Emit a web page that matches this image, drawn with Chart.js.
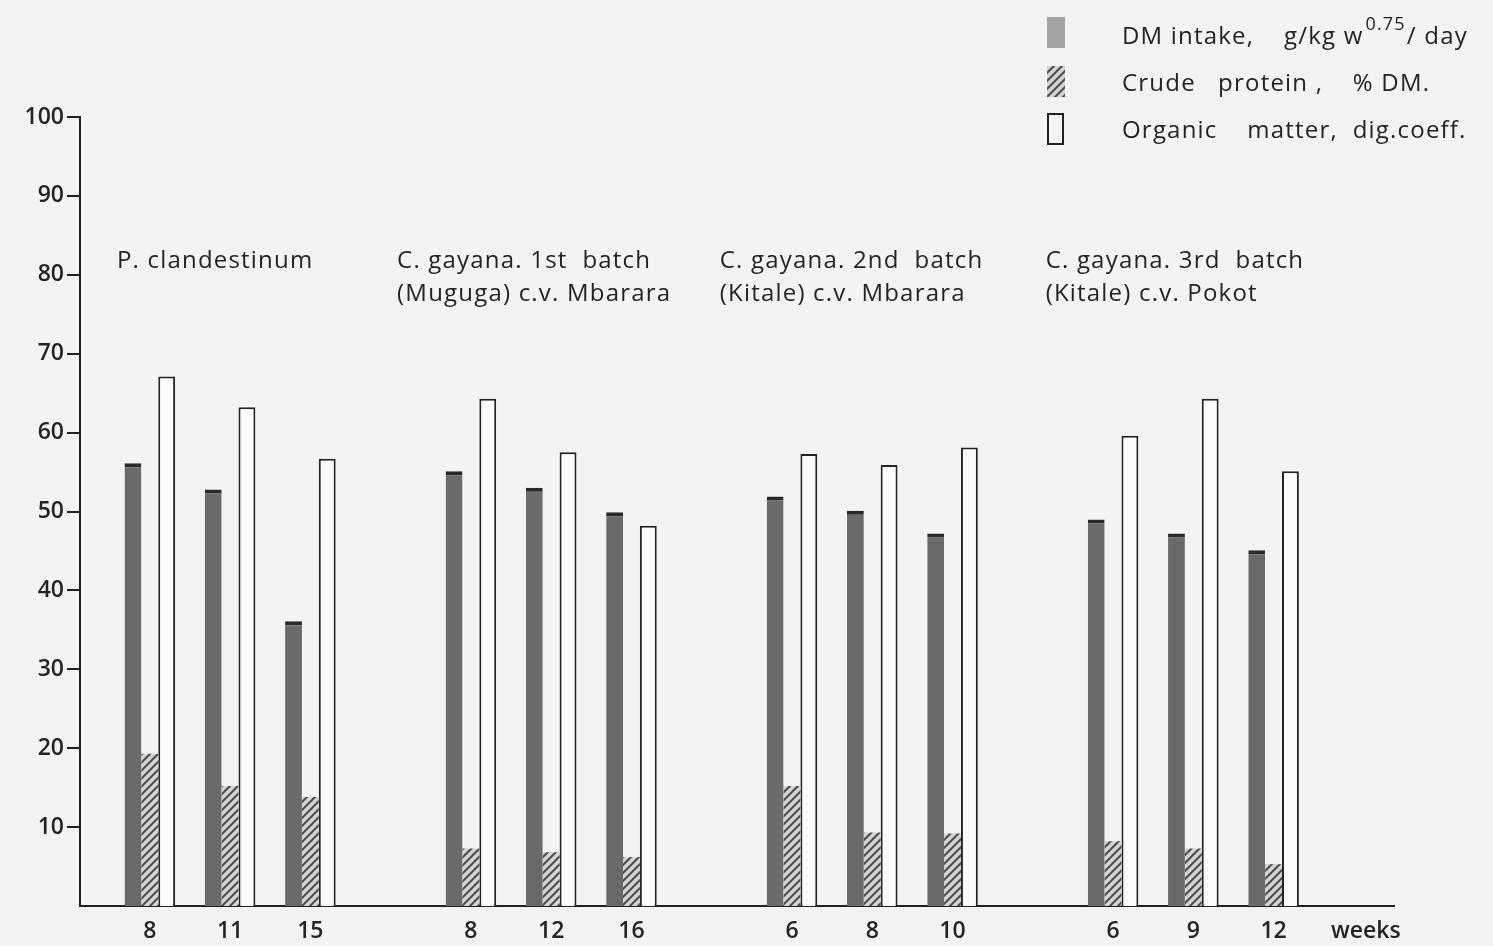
<!DOCTYPE html>
<html><head><meta charset="utf-8">
<script src="https://cdn.jsdelivr.net/npm/chart.js@4/dist/chart.umd.min.js"></script>
<style>html,body{margin:0;padding:0;background:#f3f3f3;overflow:hidden}#wrap{width:1493px;height:946px;position:relative}</style>
</head><body><div id="wrap"><canvas id="c" width="1493" height="946"></canvas></div>
<script>
// ---- data ----
const groupNames = [
  ["P. clandestinum"],
  ["C. gayana. 1st  batch", "(Muguga) c.v. Mbarara"],
  ["C. gayana. 2nd  batch", "(Kitale) c.v. Mbarara"],
  ["C. gayana. 3rd  batch", "(Kitale) c.v. Pokot"]
];
const groupWeeks = [["8","11","15"],["8","12","16"],["6","8","10"],["6","9","12"]];
const axisUnit = "weeks";
const dmIntake       = [56.1, 52.8, 36.1, 55.1, 53.0, 49.9, 51.9, 50.1, 47.2, 49.0, 47.2, 45.1];
const crudeProtein   = [19.3, 15.2, 13.8, 7.3, 6.8, 6.2, 15.2, 9.3, 9.2, 8.2, 7.3, 5.3];
const omDigestCoeff  = [67.1, 63.2, 56.7, 64.3, 57.5, 48.2, 57.3, 55.9, 58.1, 59.6, 64.3, 55.1];
const yTicks = [10, 20, 30, 40, 50, 60, 70, 80, 90, 100];
const seriesNames = ["DM intake,    g/kg w", "Crude   protein ,    % DM.", "Organic    matter,  dig.coeff."];

// ---- derived positions on the x axis (one empty slot between groups) ----
const positions = [], weekLabels = {};
groupWeeks.forEach((g, gi) => g.forEach((w, i) => {
  const p = gi * (g.length + 1) + i + 1; positions.push(p); weekLabels[p] = w;
}));
const lastPos = positions[positions.length - 1];
const unitPos = lastPos + 1.15;
weekLabels[unitPos] = axisUnit;
const toPts = arr => arr.map((v, i) => ({x: positions[i], y: v}));

// ---- styles ----
const hatch = (() => {
  const c = document.createElement('canvas'); c.width = 8; c.height = 8;
  const g = c.getContext('2d');
  g.fillStyle = '#d4d4d4'; g.fillRect(0, 0, 8, 8);
  g.strokeStyle = '#4a4a4a'; g.lineWidth = 2;
  g.beginPath();
  g.moveTo(0, 8); g.lineTo(8, 0);
  g.moveTo(-2, 2); g.lineTo(2, -2);
  g.moveTo(6, 10); g.lineTo(10, 6);
  g.stroke();
  return g.createPattern(c, 'repeat');
})();
const FONT = "'Open Sans', 'DejaVu Sans', sans-serif";
const TXT = '#242424';

const overlayPlugin = {
  id: 'overlay',
  afterDraw(chart) {
    const ctx = chart.ctx, xs = chart.scales.x, ys = chart.scales.y;
    ctx.save();
    // group labels
    const anchors = [0.59, 4.08, 8.1, 12.16];
    ctx.fillStyle = TXT; ctx.font = "500 24px " + FONT; ctx.textBaseline = 'middle'; ctx.textAlign = 'left';
    ctx.letterSpacing = '1.2px';
    groupNames.forEach((lines, gi) => {
      lines.forEach((t, li) => {
        ctx.fillText(t, xs.getPixelForValue(anchors[gi]), ys.getPixelForValue(81.7 - li * 4.1));
      });
    });
    // legend
    const icons = [[1047, 17, 18, 31], [1047, 66, 18, 31], [1047, 113, 17, 32]];
    const ty = [37, 84, 131];
    chart.data.datasets.forEach((ds, i) => {
      const [ix, iy, iw, ih] = icons[i];
      if (i === 0) { ctx.fillStyle = '#a4a4a4'; ctx.fillRect(ix, iy, iw, ih); }
      if (i === 1) { ctx.fillStyle = hatch; ctx.fillRect(ix, iy, iw, ih); }
      if (i === 2) { ctx.strokeStyle = '#222'; ctx.lineWidth = 2; ctx.strokeRect(ix + 1, iy + 1, iw - 2, ih - 2); }
      ctx.fillStyle = TXT; ctx.font = "500 24px " + FONT; ctx.letterSpacing = '1.2px';
      let x = 1122;
      ctx.fillText(seriesNames[i], x, ty[i]);
      if (i === 0) {
        x += ctx.measureText(seriesNames[i]).width + 2;
        ctx.font = "500 18px " + FONT;
        ctx.fillText("0.75", x, ty[i] - 12);
        x += ctx.measureText("0.75").width + 1;
        ctx.font = "500 24px " + FONT;
        ctx.fillText("/ day", x, ty[i]);
      }
    });
    ctx.restore();
  }
};

const bgPlugin = {
  id: 'bg',
  beforeDraw(chart) {
    const ctx = chart.ctx; ctx.save(); ctx.fillStyle = '#f3f3f3';
    ctx.fillRect(0, 0, chart.width, chart.height); ctx.restore();
  }
};

new Chart(document.getElementById('c'), {
  type: 'bar',
  data: {
    datasets: [
      { label: seriesNames[0], data: toPts(dmIntake), backgroundColor: '#6a6a6a', borderColor: '#2a2a2a',
        borderWidth: {top: 4, left: 0, right: 0, bottom: 0}, borderSkipped: 'bottom' },
      { label: seriesNames[1], data: toPts(crudeProtein), backgroundColor: hatch, borderWidth: 0 },
      { label: seriesNames[2], data: toPts(omDigestCoeff), backgroundColor: '#fbfbfb', borderColor: '#232323',
        borderWidth: 2, borderSkipped: 'bottom' }
    ]
  },
  options: {
    responsive: false, animation: false, devicePixelRatio: 1,
    layout: { padding: { top: 117, right: 99, left: 0, bottom: 0 } },
    datasets: { bar: { categoryPercentage: 0.63, barPercentage: 1.0, grouped: true } },
    plugins: { legend: { display: false }, tooltip: { enabled: false } },
    scales: {
      x: {
        type: 'linear', min: 0.13, max: lastPos + 1.5, offset: false,
        afterBuildTicks: s => { s.ticks = Object.keys(weekLabels).map(k => ({ value: +k })); },
        afterFit: s => { s.height = 40; },
        grid: { display: false, drawTicks: false },
        border: { display: true, color: '#222', width: 2 },
        ticks: { autoSkip: false, maxRotation: 0, padding: 12, color: TXT,
          font: { size: 23, family: FONT, weight: '600' }, callback: v => weekLabels[v] || '' }
      },
      y: {
        min: 0, max: 100,
        afterBuildTicks: s => { s.ticks = yTicks.map(v => ({ value: v })); },
        afterFit: s => { s.width = 80; },
        grid: { drawOnChartArea: false, drawTicks: true, tickLength: 13, color: '#222', lineWidth: 2 },
        border: { display: true, color: '#222', width: 2 },
        ticks: { padding: 3, color: TXT, font: { size: 23, family: FONT, weight: '600' } }
      }
    }
  },
  plugins: [bgPlugin, overlayPlugin]
});
</script>
</body></html>
